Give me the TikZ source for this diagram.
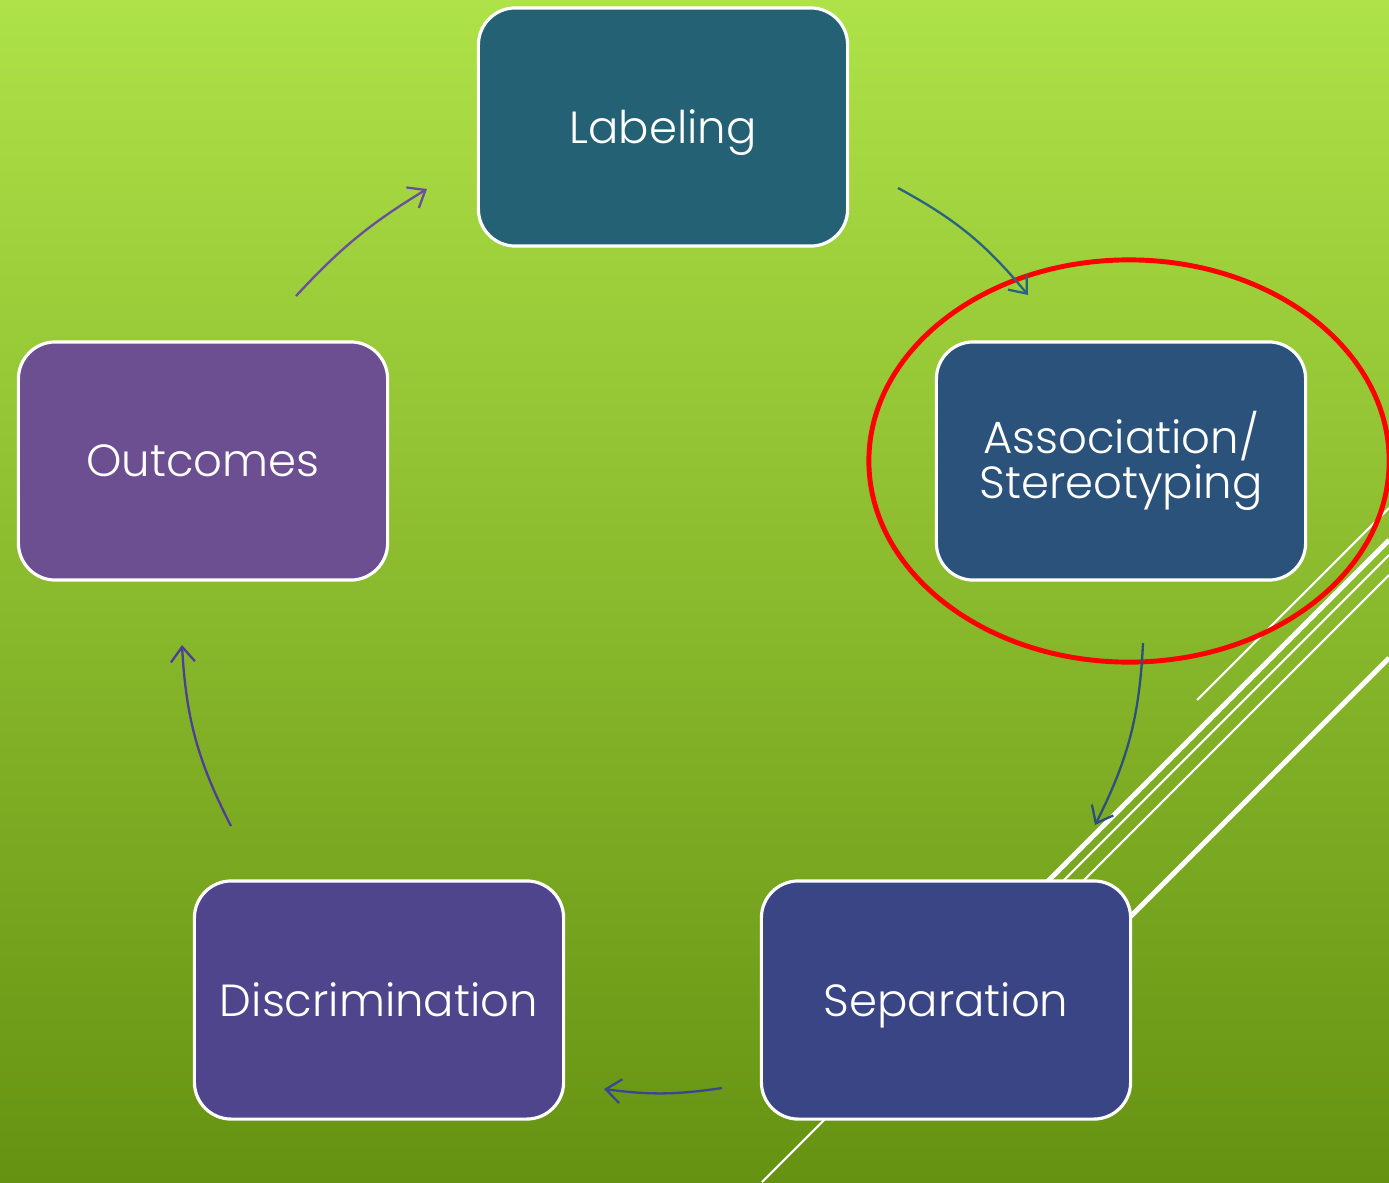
\documentclass[tikz,border=0pt]{standalone}
\usepackage{fontspec}
\setmainfont{Poppins}[UprightFont={* Light}]
\usepackage{xcolor}
\usetikzlibrary{arrows.meta}
\definecolor{bgtop}{HTML}{AEE248}
\definecolor{bgmid}{HTML}{8CBB2B}
\definecolor{bgbottom}{HTML}{669212}
\definecolor{boxlabeling}{HTML}{246174}
\definecolor{boxassociation}{HTML}{2B527B}
\definecolor{boxseparation}{HTML}{394585}
\definecolor{boxdiscrimination}{HTML}{4E458C}
\definecolor{boxoutcomes}{HTML}{6B4F91}
\tikzset{
    cycle-box/.style = {draw=white, line width=0.9pt, rectangle, rounded corners=10.5pt, minimum width=3.69cm, minimum height=2.38cm, inner sep=0pt, text=white, align=center, text depth=0pt, font=\fontsize{12.8}{13}\selectfont},
    cycle-arrow/.style = {line width=0.65pt, -{Straight Barb[length=1.5mm, width=2.4mm]}},
    facet-thick/.style = {draw=white, line width=1.4pt},
    facet-thin/.style = {draw=white, line width=0.6pt},
    focus-ring/.style = {draw=red, line width=1.4pt},
}

\begin{document}
\begin{tikzpicture}[x=0.01cm, y=-0.01cm]
\useasboundingbox (0,0) rectangle (1389,1182);
\clip (0,0) rectangle (1389,1182);
\shade[top color=bgtop, middle color=bgmid, bottom color=bgbottom] (0,0) rectangle (1389,1182);

% theme lines
\draw[facet-thin] (1197,700) -- (1389,508);
\draw[facet-thick] (1000,929) -- (1389,540);
\draw[facet-thin] (762,1182) -- (1389,555);
\draw[facet-thin] (1000,964) -- (1389,575);
\draw[facet-thick] (1100,947) -- (1389,658);

\node[cycle-box, fill=boxlabeling] (labeling) at (663,127) {Labeling};
\node[cycle-box, fill=boxassociation, text depth=] (association) at (1121,461) {Association/\\Stereotyping};
\node[cycle-box, fill=boxseparation] (separation) at (946,1000) {Separation};
\node[cycle-box, fill=boxdiscrimination] (discrimination) at (379,1000) {Discrimination};
\node[cycle-box, fill=boxoutcomes] (outcomes) at (203,461) {Outcomes};

\draw[focus-ring] (1129,461) ellipse [x radius=2.6cm, y radius=2.01cm];

\coordinate (labeling-out) at (898,188);
\coordinate (association-in) at (1028,295);
\coordinate (association-out) at (1143,643);
\coordinate (separation-in) at (1095,825);
\coordinate (separation-out) at (722,1088);
\coordinate (discrimination-in) at (604,1089);
\coordinate (discrimination-out) at (231,826);
\coordinate (outcomes-in) at (182,645);
\coordinate (outcomes-out) at (296,296);
\coordinate (labeling-in) at (427,189);

\draw[cycle-arrow, color={rgb,255:red,42;green,98;blue,130}] (labeling-out) to[bend left=11] (association-in);
\draw[cycle-arrow, color={rgb,255:red,43;green,79;blue,128}] (association-out) to[bend left=12] (separation-in);
\draw[cycle-arrow, color={rgb,255:red,58;green,71;blue,144}] (separation-out) to[bend left=8] (discrimination-in);
\draw[cycle-arrow, color={rgb,255:red,76;green,63;blue,149}] (discrimination-out) to[bend left=12] (outcomes-in);
\draw[cycle-arrow, color={rgb,255:red,106;green,79;blue,156}] (outcomes-out) to[bend left=8] (labeling-in);
\end{tikzpicture}
\end{document}
